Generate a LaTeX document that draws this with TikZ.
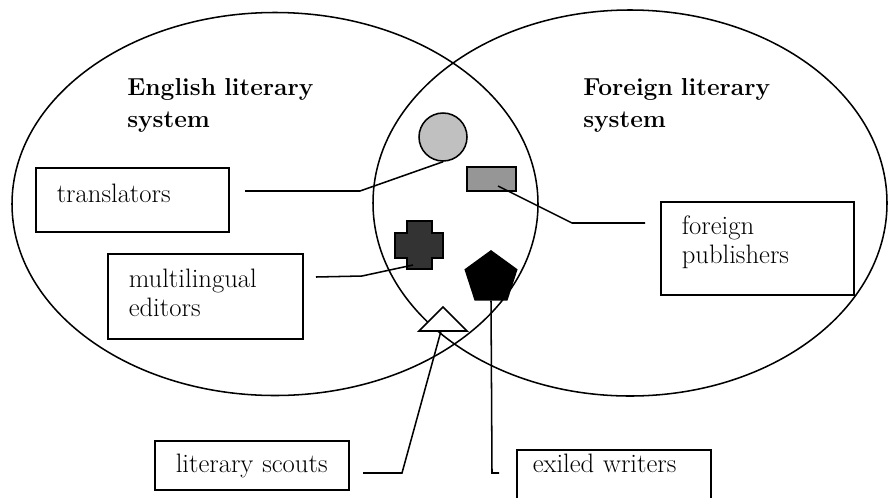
\documentclass[tikz,border=0pt]{standalone}
\usetikzlibrary{shapes.geometric}
\begin{document}
\begin{tikzpicture}[x=0.75pt,y=-0.75pt,
  ln/.style={line width=1.15pt},
  sys/.style={ellipse, draw, line width=1.15pt, inner sep=0pt},
  box/.style={draw, line width=1.15pt, anchor=north west, align=left,
    inner xsep=15.75pt, inner ysep=0pt, font=\fontsize{20}{21.5}\selectfont},
  head/.style={anchor=base west, align=left, inner sep=0pt, text width=200pt,
    font=\bfseries\fontsize{18.4}{24}\selectfont},
  symb/.style={draw, line width=1.15pt, inner sep=0pt}
]
\useasboundingbox (0,0) rectangle (888,497);
\definecolor{lgray}{HTML}{C0C0C0}
\definecolor{mgray}{HTML}{969696}
\definecolor{dgray}{HTML}{333333}

% systems
\node[sys, minimum width=394.5pt, minimum height=287.25pt] (eng) at (275,204) {};
\node[sys, minimum width=385.5pt, minimum height=289.5pt] (for) at (630,203) {};

\node[head] (engl) at (127,95) {English literary\\system};
\node[head] (forl) at (583,95) {Foreign literary\\system};

% symbols
\node[symb, circle, fill=lgray, minimum size=36pt] (circ) at (443,137) {};
\node[symb, rectangle, fill=mgray, minimum width=36.75pt, minimum height=18pt] (rectg) at (491.5,179) {};
\node[symb, regular polygon, regular polygon sides=5, fill=black, minimum size=40.5pt] (pent) at (491,278) {};
\draw[ln, fill=dgray] (407,221) -- (432,221) -- (432,233) -- (443,233) -- (443,258) -- (432,258)
  -- (432,269) -- (407,269) -- (407,258) -- (395,258) -- (395,233) -- (407,233) -- cycle;
\coordinate (crossb) at (413,265);
\draw[ln, fill=white] (443,307) -- (467,331) -- (419,331) -- cycle;
\coordinate (trib) at (441,331);
\coordinate (rectp) at (498,186);

% boxes
\node[box, text width=113.25pt, text height=26.25pt, text depth=21.75pt] (tr) at (35,167) {translators};
\node[box, text width=114.75pt, text height=25.5pt, text depth=38.25pt] (me) at (107,253) {multilingual\\editors};
\node[box, text width=113.25pt, text height=24.75pt, text depth=45pt] (fp) at (660,201) {foreign\\publishers};
\node[box, text width=114pt, text height=24pt, text depth=12.75pt] (ls) at (154,440) {literary scouts};
\node[box, inner xsep=12pt, text width=121.5pt, text height=17.25pt, text depth=45pt] (ew) at (516,449) {exiled writers};

% connectors
\coordinate (trE) at (245,191);
\coordinate (meE) at (316,277);
\coordinate (fpE) at (645,223);
\coordinate (lsE) at (363,473);
\coordinate (ewE) at (499,473);

\draw[ln] (trE) -- (360,191) -- (circ.south);
\draw[ln] (meE) -- (362,276) -- (crossb);
\draw[ln] (rectp) -- (572,223) -- (fpE);
\draw[ln] (lsE) -- (402,473) -- (trib);
\draw[ln] (pent.south) -- (492,473) -- (ewE);
\end{tikzpicture}
\end{document}
